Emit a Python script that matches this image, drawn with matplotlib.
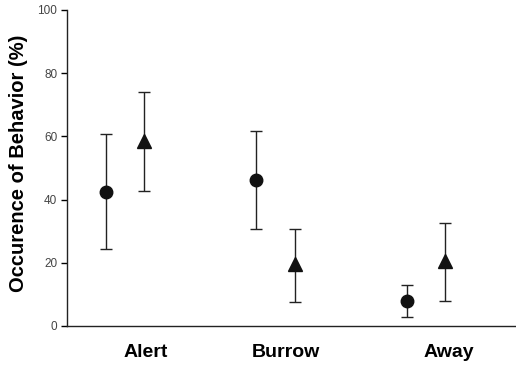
import matplotlib
matplotlib.use("Agg")
import matplotlib.pyplot as plt

# behaviour categories and group means / error bar limits (%)
categories = ["Alert", "Burrow", "Away"]
circle_mean = [42.5, 46.2, 7.9]
circle_hi = [60.7, 61.8, 13.0]
circle_lo = [24.5, 30.7, 2.8]
triangle_mean = [58.5, 19.6, 20.5]
triangle_hi = [74.0, 30.7, 32.6]
triangle_lo = [42.7, 7.6, 7.8]

pos = [1, 2, 3]
label_pos = [1.14, 2.07, 3.15]
yticks = [0, 20, 40, 60, 80, 100]

plt.rcParams["font.family"] = ["Liberation Sans", "DejaVu Sans"]

fig = plt.figure(figsize=(5.16, 3.66), dpi=100)
ax = fig.add_axes([0.1298, 0.1093, 0.8702, 0.8634])

off = 0.127
xc = [p - off for p in pos]
xt = [p + off for p in pos]

err_c = [[m - l for m, l in zip(circle_mean, circle_lo)],
         [h - m for m, h in zip(circle_mean, circle_hi)]]
err_t = [[m - l for m, l in zip(triangle_mean, triangle_lo)],
         [h - m for m, h in zip(triangle_mean, triangle_hi)]]

ax.errorbar(xc, circle_mean, yerr=err_c, fmt="o", color="#111111",
            markersize=9, ecolor="#222222", elinewidth=1, capsize=4,
            capthick=1)
ax.errorbar(xt, triangle_mean, yerr=err_t, fmt="^", color="#111111",
            markersize=10.5, ecolor="#222222", elinewidth=1, capsize=4,
            capthick=1)

ax.set_xlim(0.613, 3.6)
ax.set_ylim(0, 100)
ax.set_yticks(yticks)
ax.set_yticklabels([str(v) for v in yticks], fontsize=8.5, color="#444444")
ax.tick_params(axis="y", direction="out", length=4, width=1, pad=3)
ax.set_xticks(label_pos)
ax.set_xticklabels(categories, fontsize=14, fontweight="bold")
ax.tick_params(axis="x", length=0, pad=13)

ax.spines["top"].set_visible(False)
ax.spines["right"].set_visible(False)
for s in ["left", "bottom"]:
    ax.spines[s].set_linewidth(1.0)
    ax.spines[s].set_color("#222222")

ax.set_ylabel("Occurence of Behavior (%)", fontsize=14.5, fontweight="bold")
ax.yaxis.set_label_coords(-0.087, 0.516)

fig.savefig("out.png", dpi=100)
